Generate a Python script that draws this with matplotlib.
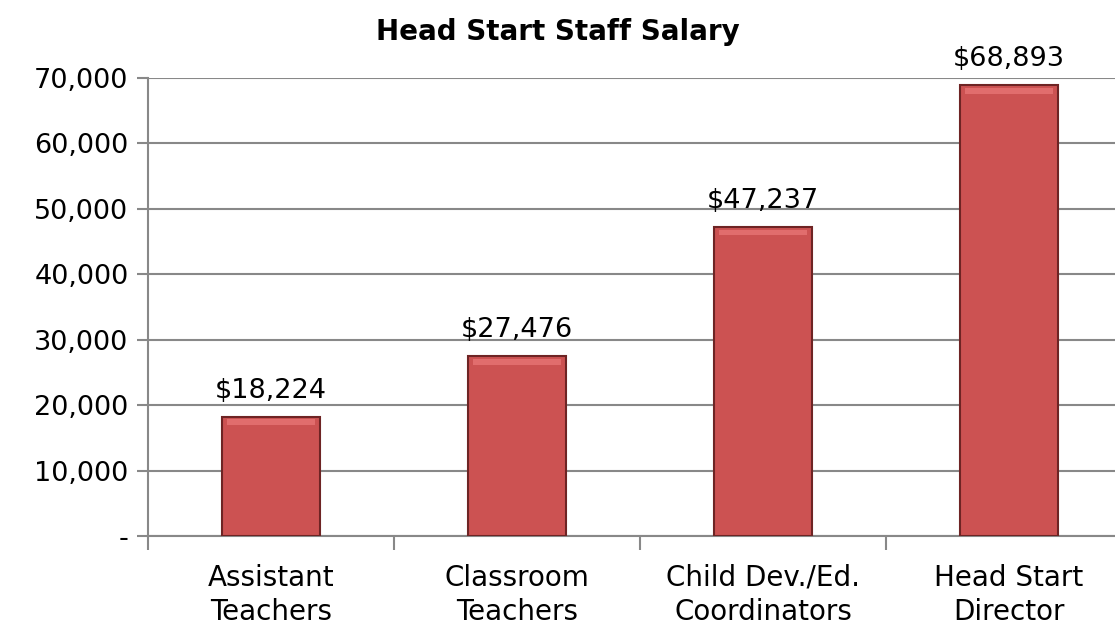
import matplotlib.pyplot as plt
import numpy as np

categories = ["Assistant\nTeachers", "Classroom\nTeachers", "Child Dev./Ed.\nCoordinators", "Head Start\nDirector"]
salaries = [18224, 27476, 47237, 68893]
yticks = [0, 10000, 20000, 30000, 40000, 50000, 60000, 70000]
ytick_labels = ["-", "10,000", "20,000", "30,000", "40,000", "50,000", "60,000", "70,000"]

plt.rcParams['font.family'] = ['DejaVu Sans']

fig = plt.figure(figsize=(11.15, 6.3), dpi=100)
ax = fig.add_axes([148 / 1115, 1 - 536 / 630, 984 / 1115, 458 / 630])

x = np.arange(len(categories))
vals = np.array(salaries)
ax.bar(x, vals, width=0.4, color="#CC5252", edgecolor="#6e2424", linewidth=1.5, zorder=3)
# lighter strip near the top for the bevel look
ax.bar(x, [900] * len(x), bottom=vals - 1300, width=0.36,
       color="#F08080", alpha=0.6, linewidth=0, zorder=4)

for xi, v in zip(x, salaries):
    ax.text(xi, v + 2000, f"${v:,}", ha="center", va="bottom", fontsize=19.5)

ax.set_xlim(-0.5, 3.5)
ax.set_ylim(0, 70000)
ax.set_yticks(yticks)
ax.set_yticklabels(ytick_labels, fontsize=19.5)
ax.set_xticks(x)
ax.set_xticklabels(categories, fontsize=20, linespacing=1.3)
ax.tick_params(axis="x", length=0, pad=20)
ax.set_xticks(np.arange(-0.5, 4, 1), minor=True)
ax.tick_params(axis="x", which="minor", length=10, width=1.5, color="#888888", direction="out")
ax.tick_params(axis="y", length=8, width=1.5, color="#888888", direction="out", pad=6)

ax.grid(axis="y", color="#888888", linewidth=1.5, zorder=0)
for s in ["top", "right"]:
    ax.spines[s].set_visible(False)
for s in ["left", "bottom"]:
    ax.spines[s].set_color("#888888")
    ax.spines[s].set_linewidth(1.5)

fig.text(0.5, 1 - 32 / 630, "Head Start Staff Salary", ha="center", va="center",
         fontsize=20, fontweight="bold")

fig.savefig("out.png", dpi=100)
